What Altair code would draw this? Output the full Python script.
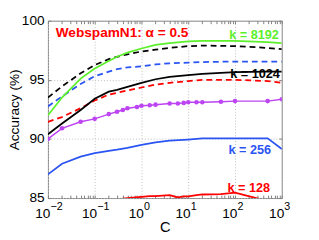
import altair as alt
import pandas as pd

# ---------------- data ----------------
C_main = [0.01, 0.02, 0.05, 0.1, 0.2, 0.3, 0.5, 1, 2, 4, 10, 20, 100, 500, 1000]
green_solid = [92.0, 93.5, 95.1, 95.95, 96.6, 96.95, 97.3, 97.65, 97.95, 98.1, 98.25, 98.3, 98.3, 98.2, 98.1]
black_dash = [93.5, 94.45, 95.55, 96.25, 96.75, 96.95, 97.15, 97.4, 97.55, 97.7, 97.85, 97.9, 97.85, 97.7, 97.6]
blue_dash = [92.75, 93.6, 94.65, 95.3, 95.7, 95.9, 96.05, 96.15, 96.3, 96.4, 96.45, 96.5, 96.55, 96.55, 96.55]
black_solid = [90.4, 91.3, 92.45, 93.4, 94.0, 94.15, 94.4, 94.75, 95.05, 95.25, 95.4, 95.5, 95.65, 95.7, 95.7]
red_dash = [91.45, 91.85, 92.6, 93.25, 93.75, 93.9, 94.1, 94.35, 94.6, 94.75, 94.9, 95.0, 95.0, 94.9, 94.75]
blue_solid = [87.0, 87.9, 88.5, 88.8, 89.0, 89.1, 89.25, 89.5, 89.7, 89.85, 89.95, 90.05, 90.05, 90.05, 89.15]

C_fine = [0.01, 0.02, 0.05, 0.1, 0.2, 0.3, 0.4, 0.5, 0.8, 1, 1.5, 2, 4, 6, 8, 10, 15, 20, 50, 100, 500, 1000]
purple_solid = [90.0, 90.9, 91.45, 91.7, 92.1, 92.3, 92.45, 92.6, 92.7, 92.8, 92.85, 92.9, 93.0, 93.0,
                93.05, 93.1, 93.1, 93.1, 93.15, 93.2, 93.2, 93.35]

C_red = [0.3, 0.4, 0.5, 1, 1.5, 2, 4, 6, 8, 10, 15, 20, 50, 100, 500]
red_solid = [84.7, 84.95, 85.0, 85.1, 85.17, 85.17, 85.25, 85.05, 85.15, 85.15, 85.25, 85.3, 85.33, 85.45, 84.75]

x_major = [0.01, 0.1, 1, 10, 100, 1000]
x_exponents = ["\u22122", "\u22121", "0", "1", "2", "3"]
y_ticks = [85, 90, 95, 100]
title_text = "WebspamN1: \u03b1 = 0.5"
k_labels = ["k = 8192", "k = 1024", "k = 256", "k = 128"]

# ---------------- styles ----------------
RED = "#ff0000"
GREEN = "#5cf02c"
BLUE = "#2b55f2"
BLACK = "#000000"
PURPLE = "#bd44f2"
FRAME = "#808080"
FONT = "Liberation Sans"
W, H = 240, 182

series = [
    ("blue_solid", C_main, blue_solid, BLUE, []),
    ("red_solid", C_red, red_solid, RED, []),
    ("red_dash", C_main, red_dash, RED, [6, 4]),
    ("black_solid", C_main, black_solid, BLACK, []),
    ("blue_dash", C_main, blue_dash, BLUE, [6, 4]),
    ("black_dash", C_main, black_dash, BLACK, [6, 4]),
    ("green_solid", C_main, green_solid, GREEN, []),
]
rows = []
for name, cs, vals, _, _ in series:
    for c, v in zip(cs, vals):
        rows.append({"series": name, "C": c, "acc": v})
df = pd.DataFrame(rows)
purple_df = pd.DataFrame({"C": C_fine, "acc": purple_solid})

names = [s[0] for s in series]
colors = [s[3] for s in series]
dashes = [s[4] for s in series]

minor = []
for d in [0.01, 0.1, 1, 10, 100]:
    for m in range(2, 10):
        minor.append(round(d * m, 6))
all_x_ticks = x_major + minor

xs = alt.Scale(type="log", domain=[0.01, 1000], nice=False)
ys = alt.Scale(domain=[85, 100], nice=False, zero=False)

main_x_axis = alt.Axis(
    values=x_major, labelExpr="'10'", labelAlign="right", labelOffset=2,
    labelBaseline="alphabetic", labelPadding=20, labelFontSize=14, labelFont=FONT,
    labelColor="black", labelFlush=False, labelOverlap=False,
    ticks=False, domain=False, grid=True, gridDash=[1, 2], gridColor="#bdbdbd", gridWidth=1,
    title="C", titleFont=FONT, titleFontSize=15, titleFontWeight="normal", titleColor="black",
    titleX=W / 2, titleY=34, titleBaseline="alphabetic", titleAlign="center",
)
main_y_axis = alt.Axis(
    values=y_ticks, labelFontSize=14, labelFont=FONT, labelColor="black", labelPadding=4,
    labelFlush=False, labelOverlap=False,
    ticks=False, domain=False, grid=True, gridDash=[1, 2], gridColor="#bdbdbd", gridWidth=1,
    title="Accuracy (%)", titleFont=FONT, titleFontSize=14, titleFontWeight="normal",
    titleColor="black", titleX=-34, titleY=H / 2, titleAngle=270, titleAlign="center",
    titleBaseline="middle",
)

lines = alt.Chart(df).mark_line(clip=True, strokeWidth=1.8).encode(
    x=alt.X("C:Q", scale=xs, axis=main_x_axis),
    y=alt.Y("acc:Q", scale=ys, axis=main_y_axis),
    color=alt.Color("series:N", scale=alt.Scale(domain=names, range=colors), legend=None),
    strokeDash=alt.StrokeDash("series:N", scale=alt.Scale(domain=names, range=dashes), legend=None),
    order=alt.Order("C:Q"),
)

purple = alt.Chart(purple_df).mark_line(
    clip=True, strokeWidth=1.5, color=PURPLE,
    point=alt.OverlayMarkDef(filled=True, size=22, color=PURPLE),
).encode(
    x=alt.X("C:Q", scale=xs, axis=None),
    y=alt.Y("acc:Q", scale=ys, axis=None),
)


def tick_axis(orient_x, orient_y, x_offset, y_offset):
    ax = alt.Axis(orient=orient_x, offset=x_offset, values=all_x_ticks, labels=False,
                  domain=False, grid=False, ticks=True, tickSize=3, tickColor=FRAME,
                  tickWidth=1, title=None)
    ay = alt.Axis(orient=orient_y, offset=y_offset, values=y_ticks, labels=False,
                  domain=False, grid=False, ticks=True, tickSize=3, tickColor=FRAME,
                  tickWidth=1, title=None)
    return alt.Chart(purple_df).mark_point(opacity=0).encode(
        x=alt.X("C:Q", scale=xs, axis=ax),
        y=alt.Y("acc:Q", scale=ys, axis=ay),
    )


ticks_a = tick_axis("top", "right", -H, -W)
ticks_b = tick_axis("bottom", "left", -H, -W)

exp_df = pd.DataFrame({"C": x_major, "e": x_exponents})
exps = alt.Chart(exp_df).mark_text(
    align="left", baseline="alphabetic", dx=2.5, fontSize=11, font=FONT, color="black"
).encode(
    x=alt.X("C:Q", scale=xs, axis=None),
    y=alt.value(H + 12.5),
    text="e:N",
)


def label(text, x, y, color, size, align):
    return alt.Chart(pd.DataFrame({"t": [text]})).mark_text(
        align=align, baseline="alphabetic", fontSize=size, fontWeight="bold", font=FONT, color=color
    ).encode(x=alt.value(x), y=alt.value(y), text="t:N")


ann = [
    label(title_text, 8, 17, RED, 14, "left"),
    label(k_labels[0], 237, 19, GREEN, 13, "right"),
    label(k_labels[1], 238, 59, BLACK, 13, "right"),
    label(k_labels[2], 229, 137, BLUE, 13, "right"),
    label(k_labels[3], 228, 176, RED, 13, "right"),
]

chart = alt.layer(lines, purple, ticks_a, ticks_b, exps, *ann).resolve_axis(
    x="independent", y="independent"
).properties(
    width=W, height=H,
    autosize=alt.AutoSizeParams(type="none"),
    padding={"left": 41, "top": 10, "right": 30, "bottom": 40},
).configure_view(stroke=FRAME, strokeWidth=1)

chart.save("out.html", embed_options={"renderer": "svg", "actions": False})
